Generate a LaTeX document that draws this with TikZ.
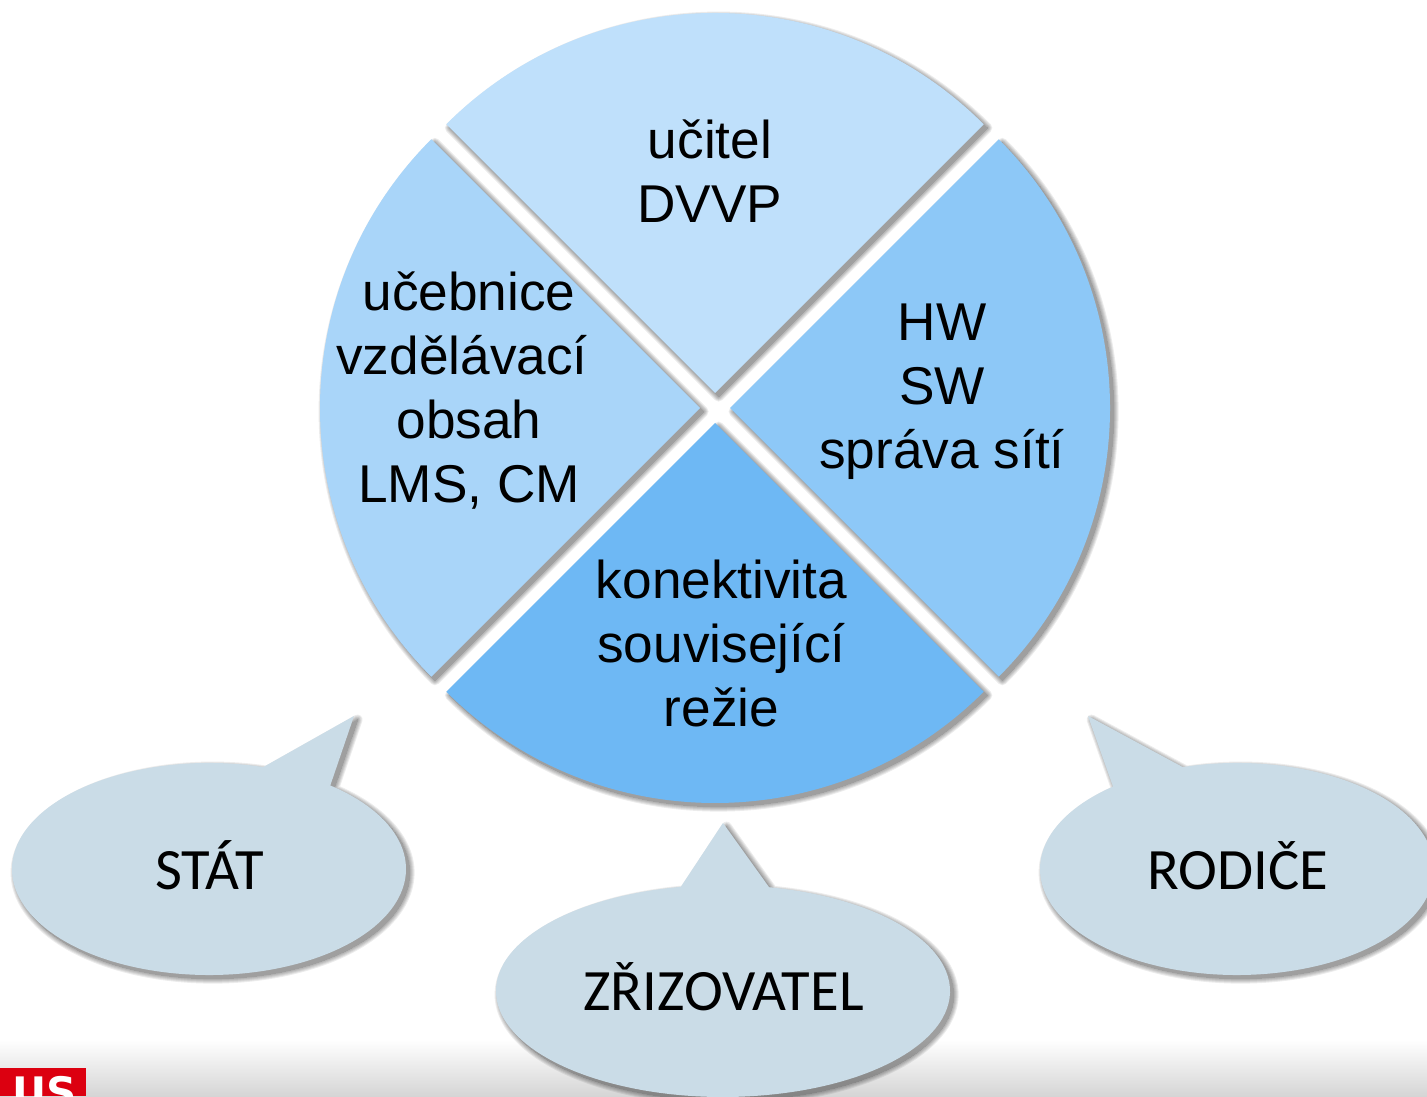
\documentclass[tikz,border=0pt]{standalone}
\usepackage{fontspec}
\setmainfont{Liberation Sans}
\newfontfamily\calibrilike{Carlito}
\newfontfamily\logofont{DejaVu Sans}
\usetikzlibrary{shadings}
\definecolor{secTop}{HTML}{BFE0FB}
\definecolor{secLeft}{HTML}{A9D5F9}
\definecolor{secRight}{HTML}{8DC8F7}
\definecolor{secBottom}{HTML}{6EB8F4}
\definecolor{bubbleFill}{HTML}{CADCE7}
\definecolor{logoRed}{HTML}{DC0010}
\definecolor{footGray}{HTML}{D5D5D5}
\tikzset{
  sectortext/.style={inner sep=0pt,align=center,text=black,font=\fontsize{26.6}{32}\selectfont},
  bubbletext/.style={inner sep=0pt,anchor=base,text=black,font=\calibrilike\fontsize{29.3}{32}\selectfont},
}
\newcommand{\softshape}[2]{%
  \foreach \w in {0,1,...,5}{%
    \begin{scope}[transparency group,opacity=0.075]
      \path[fill=black,draw=black,line join=round,line width=\w pt,shift={(3.6,-3.6)}] #2;
    \end{scope}}%
  \fill[#1] #2;%
}
\begin{document}
\begin{tikzpicture}[x=0.5pt,y=0.5pt]
\useasboundingbox (0,0) rectangle (1427,1096);
\clip (0,0) rectangle (1427,1096);
\fill[white] (0,0) rectangle (1427,1096);
\shade[top color=white,bottom color=footGray] (0,0) rectangle (1427,56);
% pie sectors
\softshape{secTop}{(715,703) -- ++(135:380) arc[start angle=135,end angle=45,radius=380] -- cycle}
\softshape{secRight}{(730,688) -- ++(45:380) arc[start angle=45,end angle=-45,radius=380] -- cycle}
\softshape{secBottom}{(715,673) -- ++(-45:380) arc[start angle=-45,end angle=-135,radius=380] -- cycle}
\softshape{secLeft}{(700,688) -- ++(-135:380) arc[start angle=-135,end angle=-225,radius=380] -- cycle}
% speech bubbles
\softshape{bubbleFill}{(209,227) ++(74:197 and 106) arc[start angle=74,end angle=412,x radius=197,y radius=106] -- (354,380) -- cycle}
\softshape{bubbleFill}{(1237,227) ++(106:197 and 106) arc[start angle=106,end angle=-231,x radius=197,y radius=106] -- (1088,380) -- cycle}
\softshape{bubbleFill}{(723,105) ++(100.7:227 and 106) arc[start angle=100.7,end angle=438.3,x radius=227,y radius=106] -- (723,273) -- cycle}
% sector texts
\node[sectortext] (ucitel) at (710,924.5) {učitel\\DVVP};
\node[sectortext] (obsah) at (469,705) {učebnice\\vzdělávací\rule{7pt}{0pt}\\obsah\\LMS, CM};
\node[sectortext] (hw) at (942,704) {HW\\SW\\správa sítí};
\node[sectortext] (konekt) at (721.5,453) {konektivita\\související\\režie};
% bubble texts
\node[bubbletext] (stat) at (209.5,206) {STÁT};
\node[bubbletext] (rodice) at (1237.5,206) {RODIČE};
\node[bubbletext] (zriz) at (723.5,85.5) {ZŘIZOVATEL};
% logo fragment
\fill[logoRed] (0,0) rectangle (86,28);
\node[inner sep=0pt,anchor=base east,text=white,font=\logofont\bfseries\fontsize{21}{21}\selectfont] (logo) at (77,-11.6) {US};
\end{tikzpicture}
\end{document}
